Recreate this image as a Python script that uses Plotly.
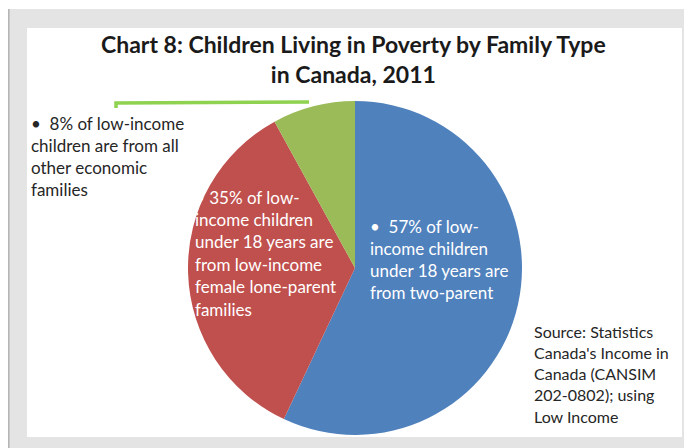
import plotly.graph_objects as go

categories = ["Two-parent families", "Female lone-parent families", "All other economic families"]
shares = [57, 35, 8]
colors = ["#4f81bd", "#c0504d", "#9bbb59"]

title_text = "Chart 8: Children Living in Poverty by Family Type<br>in Canada, 2011"
left_lines = ["•  8% of low-income", "children are from all", "other economic", "families"]
red_lines = ["• 35% of low-", "income children", "under 18 years are", "from low-income", "female lone-parent", "families"]
blue_lines = ["•  57% of low-", "income children", "under 18 years are", "from two-parent"]
source_lines = ["Source: Statistics", "Canada's Income in", "Canada (CANSIM", "202-0802); using", "Low Income"]

# page has an 8px body margin; figure drawn from (8, 8)
OFF = 8
W, H = 692 - OFF, 448 - OFF
FONT = "Lato"


def px(x):
    return (x - OFF) / W


def py(y):
    return 1 - (y - OFF) / H


fig = go.Figure()
cx, cy, r = 355, 268, 167
fig.add_trace(go.Pie(
    labels=categories, values=shares, sort=False, direction="clockwise", rotation=0,
    marker=dict(colors=colors, line=dict(width=0)), textinfo="none", hoverinfo="label+percent",
    showlegend=False,
    domain=dict(x=[px(cx - r), px(cx + r)], y=[py(cy + r), py(cy - r)]),
))

shapes = [
    dict(type="rect", xref="paper", yref="paper", x0=px(8), x1=px(692), y0=py(448), y1=py(9),
         fillcolor="#e4e4e4", line=dict(width=0), layer="below"),
    dict(type="line", xref="paper", yref="paper", x0=px(8.8), x1=px(8.8), y0=py(448), y1=py(9),
         line=dict(color="#b5b5b5", width=1.6), layer="below"),
    dict(type="rect", xref="paper", yref="paper", x0=px(27), x1=px(682), y0=py(437), y1=py(28),
         fillcolor="#ffffff", line=dict(width=0), layer="below"),
    dict(type="path", xref="paper", yref="paper",
         path=f"M {px(116)} {py(108)} L {px(116)} {py(103)} L {px(309)} {py(102)}",
         line=dict(color="#8ed24f", width=3.5)),
]

annotations = [dict(text=title_text, x=px(353), y=py(59), xref="paper", yref="paper",
                    xanchor="center", yanchor="middle", showarrow=False,
                    font=dict(family=FONT, size=23, color="#1a1a1a", weight="bold"))]


def block(lines, x, y0, step, size, color):
    for i, t in enumerate(lines):
        annotations.append(dict(text=t, x=px(x), y=py(y0 + i * step), xref="paper", yref="paper",
                                xanchor="left", yanchor="middle", showarrow=False,
                                font=dict(family=FONT, size=size, color=color)))


block(left_lines, 29, 123, 22.3, 17, "#262626")
block(red_lines, 193, 197, 22.4, 17, "#ffffff")
block(blue_lines, 368, 226, 22.3, 17, "#ffffff")
block(source_lines, 532, 331, 21.3, 16, "#262626")

fig.update_layout(
    width=W, height=H, margin=dict(l=0, r=0, t=0, b=0),
    paper_bgcolor="#ffffff", plot_bgcolor="#ffffff",
    shapes=shapes, annotations=annotations,
)

fig.write_html("out.html")
